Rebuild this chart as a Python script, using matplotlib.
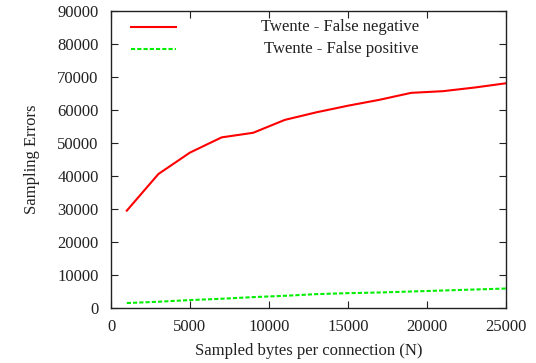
import matplotlib
matplotlib.use("Agg")
import matplotlib.pyplot as plt
from matplotlib.lines import Line2D

matplotlib.rcParams["font.family"] = ["Liberation Serif", "DejaVu Serif"]

# sampled bytes per connection (N)
sample_bytes = [1000, 3000, 5000, 7000, 9000, 11000, 13000, 15000, 17000, 19000, 21000, 23000, 25000]
# sampling errors for the Twente trace
false_neg = [29500, 40600, 47100, 51700, 53100, 57000, 59300, 61300, 63100, 65200, 65700, 66800, 68100]
false_pos = [1500, 1900, 2400, 2800, 3300, 3700, 4200, 4500, 4700, 5000, 5300, 5600, 5900]

LABELS = ["Twente - False negative", "Twente - False positive"]
COLORS = ["#ff0000", "#00ee00"]
fsize = 12

fig = plt.figure(figsize=(5.36, 3.63), dpi=100)
ax = fig.add_axes([111 / 536, 1 - 308 / 363, 395 / 536, 297 / 363])

ax.plot(sample_bytes, false_neg, color=COLORS[0], lw=1.5)
ax.plot(sample_bytes, false_pos, color=COLORS[1], lw=1.5, dashes=(2, 1))

ax.set_xlim(0, 25000)
ax.set_ylim(0, 90000)
ax.set_xticks(range(0, 25001, 5000))
ax.set_yticks(range(0, 90001, 10000))
ax.tick_params(axis="both", direction="in", top=True, right=True, length=5,
               labelsize=fsize, colors="#222222", width=0.8)
ax.tick_params(axis="x", pad=8)
ax.tick_params(axis="y", pad=9)
for sp in ax.spines.values():
    sp.set_color("#222222")
    sp.set_linewidth(1.0)

ax.set_xlabel("Sampled bytes per connection (N)", fontsize=fsize, color="#222222", labelpad=6)
ax.set_ylabel("Sampling Errors", fontsize=fsize, color="#222222", labelpad=12)

# gnuplot-style key: sample line on the left, text right-aligned
key_y = [0.946, 0.872]
key_ls = ["-", (0, (2, 1))]
for i in range(2):
    ax.add_line(Line2D([0.051, 0.165], [key_y[i], key_y[i]], transform=ax.transAxes,
                       color=COLORS[i], lw=1.5, linestyle=key_ls[i]))
    ax.text(0.78, key_y[i], LABELS[i], transform=ax.transAxes, ha="right", va="center",
            fontsize=fsize, color="#222222")

fig.savefig("out.png", dpi=100)
